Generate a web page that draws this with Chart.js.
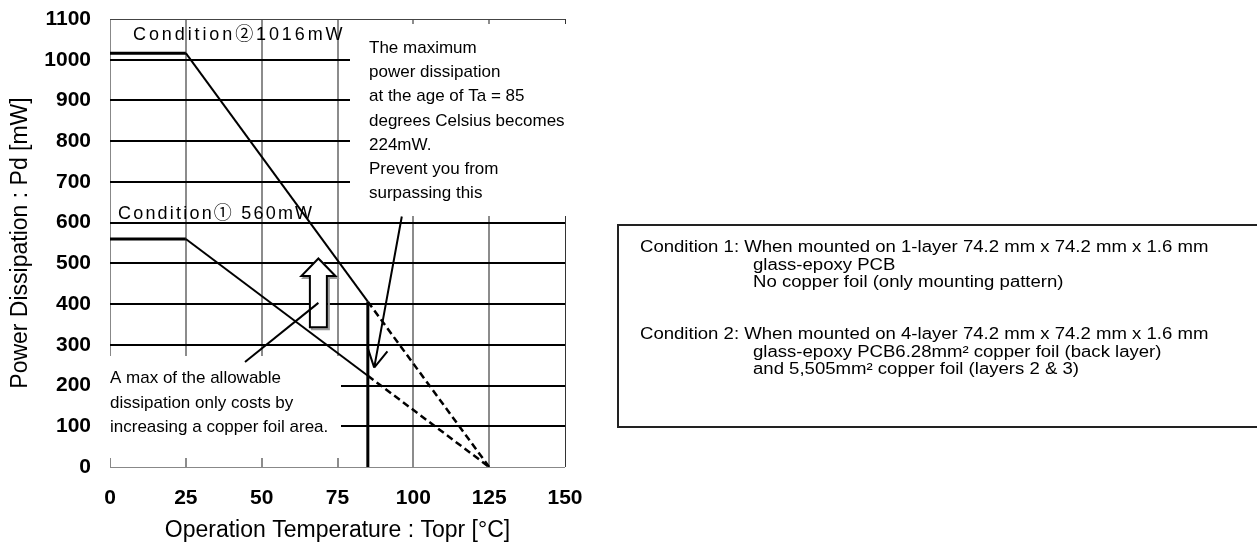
<!DOCTYPE html>
<html>
<head>
<meta charset="utf-8">
<script src="https://cdn.jsdelivr.net/npm/chart.js@4.4.1/dist/chart.umd.min.js"></script>
<style>
  html, body { margin: 0; padding: 0; background: #fff; }
  #wrap { width: 1257px; height: 547px; }
</style>
</head>
<body>
<div id="wrap"><canvas id="pdChart" width="1257" height="547"></canvas></div>
<script>
// derating curve, values
const tempC   = [0, 25, 85, 125];        // Topr [°C]
const cond1Pd = [560, 560, 224, 0];      // Condition 1 [mW]
const cond2Pd = [1016, 1016, 406, 0];    // Condition 2 [mW]
const limitTemp = 85;                    // Ta = 85 degC

const xTicks = [0, 25, 50, 75, 100, 125, 150];
const yTicks = [0, 100, 200, 300, 400, 500, 600, 700, 800, 900, 1000, 1100];

const cond2Label = "Condition\u24611016mW";
const cond1Label = "Condition\u2460 560mW";
const noteMax = [
  "The maximum", "power dissipation", "at the age of Ta = 85",
  "degrees Celsius becomes", "224mW.", "Prevent you from", "surpassing this"
];
const noteFoil = [
  "A max of the allowable", "dissipation only costs by", "increasing a copper foil area."
];
const boxLines = [
  "Condition 1: When mounted on 1-layer 74.2 mm x 74.2 mm x 1.6 mm",
  "glass-epoxy PCB",
  "No copper foil (only mounting pattern)",
  "Condition 2: When mounted on 4-layer 74.2 mm x 74.2 mm x 1.6 mm",
  "glass-epoxy PCB6.28mm\u00b2 copper foil (back layer)",
  "and 5,505mm\u00b2 copper foil (layers 2 & 3)"
];

// annotation anchors in data units (temp, mW)
const foilPointer = [[44.5, 258], [68.7, 403]];
const maxPointer  = [[96.2, 615], [87.1, 244]];
const upArrow = { x: 68.7, tip: 512, neck: 469, base: 343 };

const toData = (xs, ys) => xs.map((x, i) => ({ x: x, y: ys[i] }));

// dashed past the 85 degC limit, heavier on the flat part
const segStyle = {
  borderDash: c => c.p0.parsed.x >= limitTemp ? [7, 4] : undefined,
  borderWidth: c => c.p0.parsed.y === c.p1.parsed.y ? 3 : (c.p0.parsed.x >= limitTemp ? 2.5 : 2)
};

const annotPlugin = {
  id: 'annot',
  beforeDatasetsDraw(chart) {
    // white areas behind the notes hide the grid
    const ctx = chart.ctx;
    ctx.save();
    ctx.fillStyle = '#fff';
    ctx.fillRect(350, 24, 230, 192);
    ctx.fillRect(106, 356, 235, 102);
    ctx.restore();
  },
  afterDatasetsDraw(chart) {
    const ctx = chart.ctx;
    const xs = chart.scales.x, ys = chart.scales.y;
    const px = v => xs.getPixelForValue(v), py = v => ys.getPixelForValue(v);
    ctx.save();
    ctx.fillStyle = '#000';
    ctx.textBaseline = 'alphabetic';
    ctx.textAlign = 'left';

    // condition labels
    ctx.font = '18px "Liberation Sans", Arial, "Noto Sans CJK JP", sans-serif';
    ctx.letterSpacing = '2.9px';
    ctx.fillText(cond2Label, 133, 40);
    ctx.letterSpacing = '2.2px';
    ctx.fillText(cond1Label, 118, 219);
    ctx.letterSpacing = '0px';

    // notes
    ctx.font = '17px "Liberation Sans", Arial, sans-serif';
    noteMax.forEach((t, i) => ctx.fillText(t, 369, 53 + i * 24.2));
    noteFoil.forEach((t, i) => ctx.fillText(t, 110, 383 + i * 24.5));

    // hollow up arrow with a grey shadow
    const cx = px(upArrow.x), ty = py(upArrow.tip), ny = py(upArrow.neck), by = py(upArrow.base);
    const arrowPath = (dx, dy) => {
      ctx.beginPath();
      ctx.moveTo(cx + dx, ty + dy);
      ctx.lineTo(cx + 17 + dx, ny + dy);
      ctx.lineTo(cx + 8.5 + dx, ny + dy);
      ctx.lineTo(cx + 8.5 + dx, by + dy);
      ctx.lineTo(cx - 8.5 + dx, by + dy);
      ctx.lineTo(cx - 8.5 + dx, ny + dy);
      ctx.lineTo(cx - 17 + dx, ny + dy);
      ctx.closePath();
    };
    ctx.lineWidth = 2;
    arrowPath(2, 2);
    ctx.strokeStyle = '#999';
    ctx.stroke();
    arrowPath(0, 0);
    ctx.fillStyle = '#fff';
    ctx.fill();
    ctx.strokeStyle = '#000';
    ctx.stroke();

    // pointer from the foil note
    ctx.lineWidth = 2;
    ctx.beginPath();
    ctx.moveTo(px(foilPointer[0][0]), py(foilPointer[0][1]));
    ctx.lineTo(px(foilPointer[1][0]), py(foilPointer[1][1]));
    ctx.stroke();

    // pointer to the 224mW point
    const sx = px(maxPointer[0][0]), sy = py(maxPointer[0][1]);
    const ex = px(maxPointer[1][0]), ey = py(maxPointer[1][1]);
    ctx.beginPath();
    ctx.moveTo(sx, sy);
    ctx.lineTo(ex, ey);
    const ang = Math.atan2(sy - ey, sx - ex);
    [-0.5, 0.5].forEach(d => {
      ctx.moveTo(ex, ey);
      ctx.lineTo(ex + 21 * Math.cos(ang + d), ey + 21 * Math.sin(ang + d));
    });
    ctx.stroke();
    ctx.restore();
  },
  afterDraw(chart) {
    // condition box on the right
    const ctx = chart.ctx;
    ctx.save();
    ctx.strokeStyle = '#222';
    ctx.lineWidth = 2;
    ctx.strokeRect(618, 225, 660, 202);
    ctx.fillStyle = '#000';
    ctx.font = '16px "Liberation Sans", Arial, sans-serif';
    const pos = [[640, 252], [753, 269.5], [753, 287], [640, 339], [753, 356.5], [753, 374]];
    boxLines.forEach((t, i) => {
      ctx.save();
      ctx.translate(pos[i][0], pos[i][1]);
      ctx.scale(1.16, 1);
      ctx.fillText(t, 0, 0);
      ctx.restore();
    });
    ctx.restore();
  }
};

const tickFont = { family: '"Liberation Sans", Arial, sans-serif', size: 21, weight: 'bold' };
const titleFont = { family: '"Liberation Sans", Arial, sans-serif', size: 23 };

new Chart(document.getElementById('pdChart'), {
  type: 'line',
  data: {
    datasets: [
      {
        label: 'Condition 2',
        data: toData(tempC, cond2Pd),
        borderColor: '#000',
        borderWidth: 2,
        pointRadius: 0,
        segment: segStyle
      },
      {
        label: 'Condition 1',
        data: toData(tempC, cond1Pd),
        borderColor: '#000',
        borderWidth: 2,
        pointRadius: 0,
        segment: segStyle
      },
      {
        label: 'Ta limit',
        data: toData([limitTemp, limitTemp], [cond2Pd[2], 0]),
        borderColor: '#000',
        borderWidth: 3,
        pointRadius: 0
      }
    ]
  },
  options: {
    responsive: false,
    animation: false,
    devicePixelRatio: 1,
    layout: { padding: { top: 19, right: 692, left: 0, bottom: 0 } },
    plugins: { legend: { display: false }, tooltip: { enabled: false } },
    scales: {
      x: {
        type: 'linear',
        min: 0, max: 150,
        afterBuildTicks: s => { s.ticks = xTicks.map(v => ({ value: v })); },
        afterFit: s => { s.height = 80; s.paddingLeft = 0; s.paddingRight = 0; },
        border: { display: false },
        grid: {
          drawTicks: false,
          color: c => c.tick.value === 0 ? '#888' : (c.tick.value === 150 ? '#333' : '#8c8c8c'),
          lineWidth: c => (c.tick.value === 0 || c.tick.value === 150) ? 1 : 2
        },
        ticks: {
          padding: 19,
          color: '#000',
          font: tickFont,
          callback: v => String(v)
        },
        title: {
          display: true,
          text: 'Operation Temperature : Topr [\u00b0C]',
          color: '#000',
          padding: { top: 0, bottom: 3 },
          font: titleFont
        }
      },
      y: {
        min: 0, max: 1100,
        afterBuildTicks: s => { s.ticks = yTicks.map(v => ({ value: v })); },
        afterFit: s => { s.width = 110; s.paddingTop = 0; s.paddingBottom = 0; },
        border: { display: false },
        grid: {
          drawTicks: false,
          color: c => c.tick.value === 0 ? '#888' : (c.tick.value === 1100 ? '#444' : '#000'),
          lineWidth: c => (c.tick.value === 0 || c.tick.value === 1100) ? 1 : 2
        },
        ticks: {
          padding: 19,
          color: '#000',
          font: tickFont,
          callback: v => String(v)
        },
        title: {
          display: true,
          text: 'Power Dissipation : Pd [mW]',
          color: '#000',
          padding: { top: 7, bottom: 0 },
          font: titleFont
        }
      }
    }
  },
  plugins: [annotPlugin]
});
</script>
</body>
</html>
